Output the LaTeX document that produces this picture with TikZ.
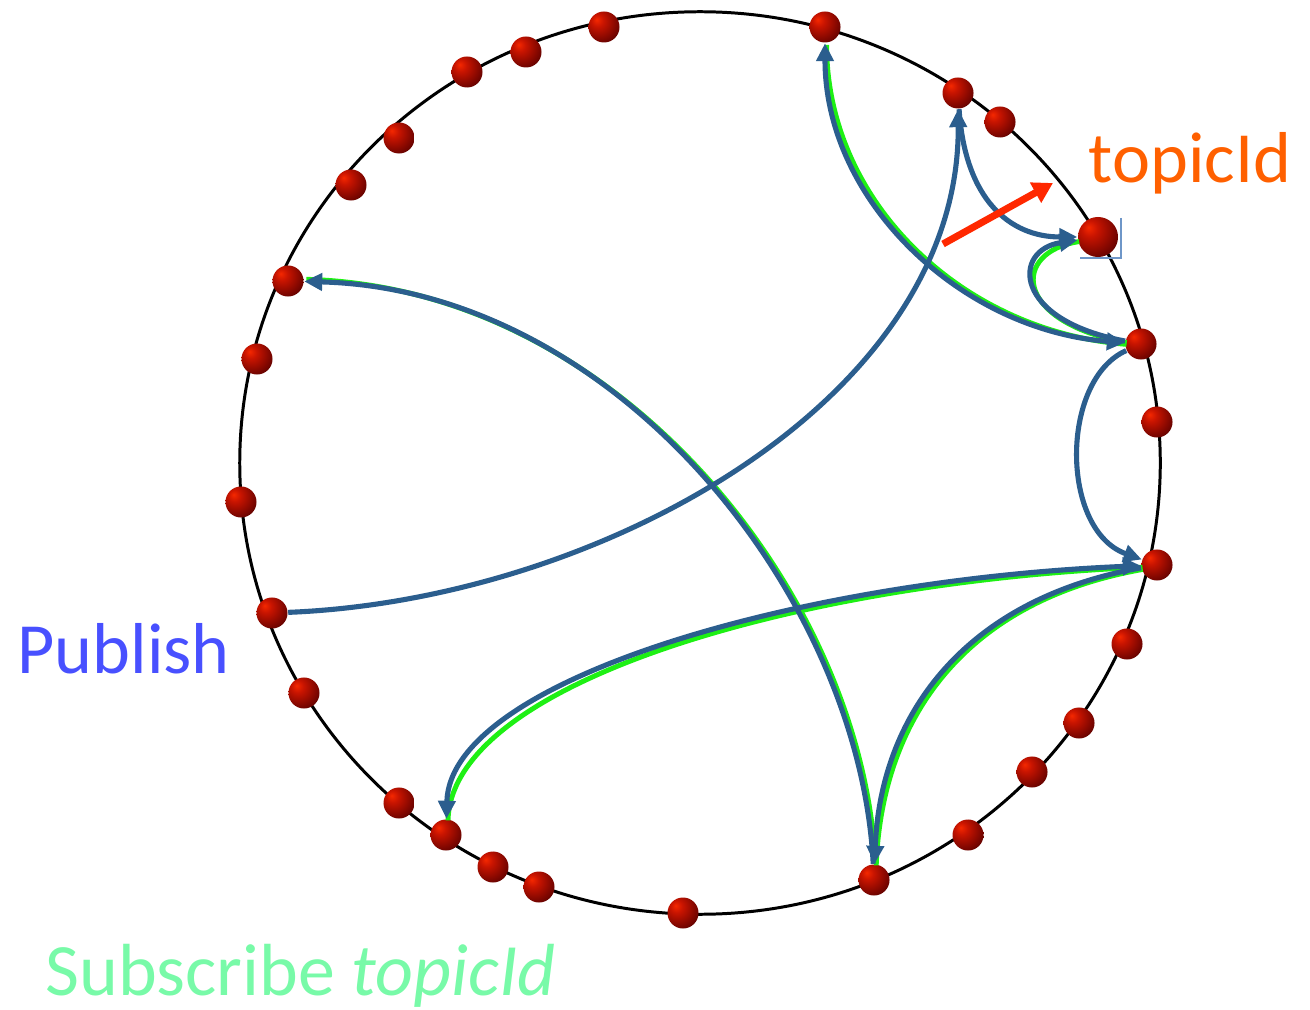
\documentclass[tikz,border=0pt]{standalone}
\usepackage{fontspec}
\setmainfont{Carlito}
\usetikzlibrary{arrows.meta}
\definecolor{treeblue}{RGB}{43,94,142}
\definecolor{subgreen}{RGB}{30,240,20}
\definecolor{pubblue}{RGB}{72,80,255}
\definecolor{topicorange}{RGB}{255,96,0}
\definecolor{labelgreen}{RGB}{120,250,168}
\definecolor{markred}{RGB}{255,40,0}
\definecolor{selblue}{RGB}{110,150,200}
\definecolor{ballhi}{RGB}{245,40,0}
\definecolor{ballmid}{RGB}{200,20,0}
\definecolor{balllow}{RGB}{120,5,0}
\definecolor{balldark}{RGB}{40,0,0}
\pgfdeclareradialshading{redball}{\pgfpoint{-12bp}{12bp}}{color(0bp)=(ballhi); color(10bp)=(ballmid); color(30bp)=(balllow); color(48bp)=(balldark); color(80bp)=(black)}

\begin{document}
\begin{tikzpicture}[x=0.01cm, y=-0.01cm,
  peer/.style={circle, inner sep=0pt, minimum size=0.31cm, shade, shading=redball},
  tree/.style={draw=treeblue, line width=1.45pt, -{Triangle[length=1.8mm, width=1.7mm]}},
  sub/.style={draw=subgreen, line width=1.4pt, transform canvas={shift={(0.45pt,-0.45pt)}}},
  subup/.style={draw=subgreen, line width=1.4pt, transform canvas={shift={(0.6pt,0.6pt)}}},
  lbl/.style={anchor=base west, inner sep=0pt, font=\fontsize{20.5}{24}\selectfont}]
  \useasboundingbox (0,0) rectangle (1310,1010);

  % the ring
  \draw[line width=0.85pt] (700,463) ellipse [x radius=4.6cm, y radius=4.51cm];

  % peers on the ring
  \foreach \x/\y in {604/27, 526/52, 467/72, 399/138, 351/185, 257/359, 241/502,
                     304/693, 399/803, 493/867, 539/887, 683/913, 968/835,
                     1032/772, 1079/723, 1127/644, 1157/422, 1000/122} {
    \node[peer] at (\x,\y) {};
  }
  \node[peer] (a) at (825,27) {};
  \node[peer] (b) at (958,93) {};
  \node[peer] (c) at (1141,344) {};
  \node[peer] (d) at (1157,565) {};
  \node[peer] (e) at (874,880) {};
  \node[peer] (f) at (446,835) {};
  \node[peer] (g) at (288,281) {};
  \node[peer] (pub) at (272,613) {};
  \draw[selblue, line width=0.7pt] (1121,218) -- (1121,258) -- (1080,258);
  \node[peer, minimum size=0.4cm] (root) at (1098,237) {};

  % subscribe paths (green under the tree)
  \draw[sub] (c) .. controls (960,330) and (825,200) .. (a);
  \draw[sub] (c) .. controls (1010,320) and (1010,250) .. (root);
  \draw[sub] (f) .. controls (450,680) and (800,580) .. (d);
  \draw[sub] (d) .. controls (960,600) and (880,720) .. (e);
  \draw[subup] (e) .. controls (860,600) and (620,290) .. (g);

  % multicast tree
  \draw[tree, {Triangle[length=1.8mm, width=1.7mm]}-{Triangle[length=1.8mm, width=1.7mm]}]
    (c) .. controls (960,330) and (825,200) .. (a);
  \draw[tree] (pub) .. controls (600,600) and (960,400) .. (b);
  \draw[tree] (b) .. controls (965,200) and (1010,237) .. (root);
  \draw[tree] (c) .. controls (1012,320) and (1012,250) .. (root);
  \draw[tree] (c) .. controls (1060,380) and (1060,530) .. (d);
  \draw[tree, {Triangle[length=1.8mm, width=1.7mm]}-{Triangle[length=1.8mm, width=1.7mm]}]
    (f) .. controls (450,680) and (800,580) .. (d);
  \draw[tree] (d) .. controls (960,600) and (880,720) .. (e);
  \draw[tree] (e) .. controls (860,600) and (620,290) .. (g);

  % pointer to the topic key
  \coordinate (m1) at (943,244);
  \coordinate (m2) at (1053,183);
  \draw[markred, line width=2pt, -{Triangle[length=2mm, width=2.2mm]}] (m1) -- (m2);

  \node[lbl, text=topicorange] (topiclbl) at (1088,183) {topicId};
  \node[lbl, text=pubblue] (publbl) at (17,673) {Publish};
  \node[lbl, text=labelgreen, font=\fontsize{21}{25}\selectfont] (sublbl) at (45,995) {Subscribe \textit{topicId}};
\end{tikzpicture}
\end{document}
